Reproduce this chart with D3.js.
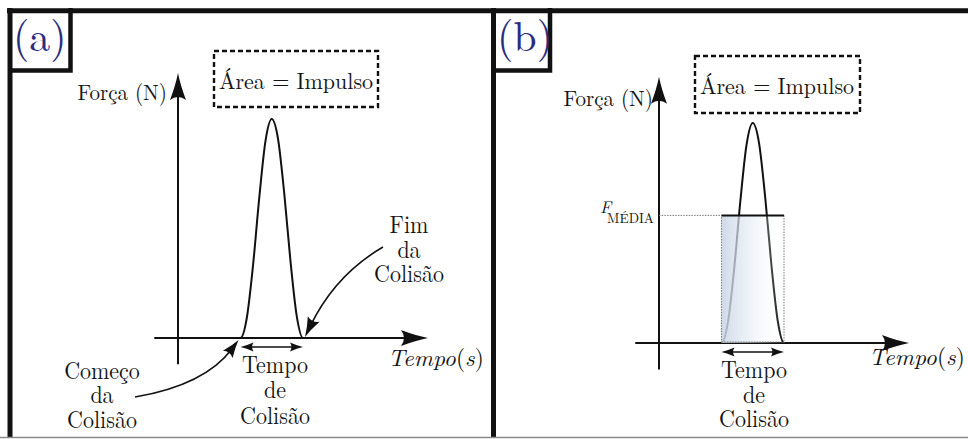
<!DOCTYPE html>
<html>
<head>
<meta charset="utf-8">
<script src="https://cdn.jsdelivr.net/npm/d3@7"></script>
<style>
  body { margin: 0; background: #fff; }
  svg { display: block; }
</style>
</head>
<body>
<svg id="fig" width="968" height="439"></svg>
<script>
// Force pulse during a collision (time in arbitrary units, force in arbitrary units)
const timeSamples  = [2.3, 2.5, 2.75, 3.0, 3.25, 3.5, 3.75, 4.0, 4.25, 4.5, 4.75, 5.0, 5.2];
const forceSamples = [0,   0,   0.9,  3.3, 6.4,  9.0, 10,   9.1, 6.6,  3.5, 1.0,  0,   0];
const collisionWindow = [2.5, 5.0];     // start / end of contact
const averageForce = [5.8];             // F_MÉDIA level in panel (b)
const timeExtent = [-0.95, 10];         // horizontal axis, from left stub to arrow tip
const forceExtent = [-1.2, 12.1];       // vertical axis, from bottom stub to arrow tip

// Texts
const panelLetters = ["(a)", "(b)"];
const impulseLabel = "Área = Impulso";
const forceTitle = "Força (N)";
const timeTitle = ["Tempo", "(", "s", ")"];
const durationLabel = ["Tempo", "de", "Colisão"];
const beginLabel = ["Começo", "da", "Colisão"];
const endLabel = ["Fim", "da", "Colisão"];
const avgLabel = ["F", "MÉDIA"];

const FONT = '"Latin Modern Roman", "Liberation Serif", serif';
const INK = "#141414";

const svg = d3.select("#fig");
const defs = svg.append("defs");
const grad = defs.append("linearGradient").attr("id", "avgFill")
  .attr("x1", "0").attr("x2", "1").attr("y1", "0").attr("y2", "0");
grad.append("stop").attr("offset", "0").attr("stop-color", "#c8d5e5").attr("stop-opacity", 0.88);
grad.append("stop").attr("offset", "0.5").attr("stop-color", "#e4ebf3").attr("stop-opacity", 0.55);
grad.append("stop").attr("offset", "1").attr("stop-color", "#ffffff").attr("stop-opacity", 0);

// text at (x,y); tall > 1 stretches the glyphs vertically about the baseline
function txt(g, x, y, size, s, tall = 1) {
  const t = g.append("text")
    .style("font-family", FONT).style("font-size", size + "px").attr("fill", INK);
  if (tall === 1) t.attr("x", x).attr("y", y);
  else t.attr("transform", `translate(${x},${y}) scale(1,${tall})`);
  if (s != null) t.text(s);
  return t;
}

// filled LaTeX-style arrow head, tip at (x,y), pointing along angle (deg)
function head(g, x, y, angle, len, hw) {
  g.append("path")
    .attr("d", `M0,0 Q${-len*0.45},${-hw*0.3} ${-len},${-hw} Q${-len*0.78},0 ${-len},${hw} Q${-len*0.45},${hw*0.3} 0,0Z`)
    .attr("transform", `translate(${x},${y}) rotate(${angle})`)
    .attr("fill", "#111");
}

// curved callout arrow: quadratic from p0 via c to tip p1
function callout(g, p0, c, p1, len, hw) {
  const dx = p1[0] - c[0], dy = p1[1] - c[1], d = Math.hypot(dx, dy);
  const e = [p1[0] - dx / d * len * 0.6, p1[1] - dy / d * len * 0.6];
  const p = d3.path();
  p.moveTo(p0[0], p0[1]);
  p.quadraticCurveTo(c[0], c[1], e[0], e[1]);
  g.append("path").attr("d", p.toString()).attr("fill", "none")
    .attr("stroke", "#111").attr("stroke-width", 1.6);
  head(g, p1[0], p1[1], Math.atan2(dy, dx) * 180 / Math.PI, len, hw);
}

function stackedText(g, lines, x, ys, size) {
  lines.forEach((s, i) => txt(g, x, ys[i], size, s, 1.13).attr("text-anchor", "middle"));
}

const panels = [
  { xr: [153, 428], y0: 338, y10: 119,
    box: [214, 51, 164, 56], boxText: [296, 89], force: [167, 100], time: [388, 366],
    duration: [275, [373, 398, 424]], durY: 9, avg: false },
  { xr: [634, 909], y0: 343, y10: 123,
    box: [695, 56, 165, 57], boxText: [777, 94], force: [653, 106], time: [869, 365],
    duration: [754, [378, 403, 427]], durY: 9, avg: true }
];

panels.forEach(P => {
  const g = svg.append("g");
  const x = d3.scaleLinear().domain([-1, 10]).range(P.xr);
  const y = d3.scaleLinear().domain([0, 10]).range([P.y0, P.y10]);

  // axes
  g.append("line").attr("x1", x(timeExtent[0])).attr("x2", x(timeExtent[1]) - 14)
    .attr("y1", y(0)).attr("y2", y(0)).attr("stroke", "#111").attr("stroke-width", 2);
  head(g, x(timeExtent[1]), y(0), 0, 27, 8);
  g.append("line").attr("x1", x(0)).attr("x2", x(0))
    .attr("y1", y(forceExtent[0])).attr("y2", y(forceExtent[1]) + 14)
    .attr("stroke", "#111").attr("stroke-width", 2);
  head(g, x(0), y(forceExtent[1]), -90, 27, 8);

  // force pulse
  const line = d3.line().x((d, i) => x(timeSamples[i])).y(d => y(d)).curve(d3.curveMonotoneX);
  g.append("path").attr("d", line(forceSamples)).attr("fill", "none")
    .attr("stroke", "#111").attr("stroke-width", 2);

  if (P.avg) {
    const xa = x(collisionWindow[0]), xb = x(collisionWindow[1]), ya = y(averageForce[0]);
    g.append("rect").attr("x", xa).attr("y", ya).attr("width", xb - xa).attr("height", y(0) - ya)
      .attr("fill", "url(#avgFill)");
    g.append("path").attr("d", `M${xa},${y(0)}V${ya}M${xb},${ya}V${y(0)}M${xa},${y(0) - 1}H${xb}`)
      .attr("fill", "none").attr("stroke", "#777").attr("stroke-width", 1).attr("stroke-dasharray", "1.5,1.2");
    g.append("line").attr("x1", x(0)).attr("x2", xa).attr("y1", ya).attr("y2", ya)
      .attr("stroke", "#777").attr("stroke-width", 1).attr("stroke-dasharray", "1.5,1.2");
    g.append("line").attr("x1", xa).attr("x2", xb).attr("y1", ya).attr("y2", ya)
      .attr("stroke", "#111").attr("stroke-width", 2);
    txt(g, x(0) - 59, ya - 2, 17, avgLabel[0]).style("font-style", "italic");
    txt(g, x(0) - 5, ya + 8, 13.5, avgLabel[1]).attr("text-anchor", "end");
  }

  // collision duration double arrow
  const xs = x(collisionWindow[0]), xe = x(collisionWindow[1]), yd = y(0) + P.durY;
  g.append("line").attr("x1", xs + 6).attr("x2", xe - 6).attr("y1", yd).attr("y2", yd)
    .attr("stroke", "#111").attr("stroke-width", 1.4);
  head(g, xs, yd, 180, 13, 4.5);
  head(g, xe, yd, 0, 13, 4.5);
  stackedText(g, durationLabel, P.duration[0], P.duration[1], 22);

  // dashed impulse box
  g.append("rect").attr("x", P.box[0]).attr("y", P.box[1]).attr("width", P.box[2]).attr("height", P.box[3])
    .attr("fill", "none").attr("stroke", "#111").attr("stroke-width", 2.4).attr("stroke-dasharray", "5,3");
  txt(g, P.boxText[0], P.boxText[1], 22, impulseLabel, 1.05).attr("text-anchor", "middle");

  // axis titles
  txt(g, P.force[0], P.force[1], 21, forceTitle, 1.06).attr("text-anchor", "end");
  const tt = txt(g, P.time[0], P.time[1], 23.5, null);
  tt.append("tspan").style("font-style", "italic").text(timeTitle[0]);
  tt.append("tspan").text(timeTitle[1]);
  tt.append("tspan").style("font-style", "italic").text(timeTitle[2]);
  tt.append("tspan").text(timeTitle[3]);

  if (!P.avg) {
    stackedText(g, beginLabel, 102, [379, 403, 428], 22);
    stackedText(g, endLabel, 409, [233, 258, 282], 22);
    callout(g, [135, 397], [205, 385], [x(collisionWindow[0]) - 2, y(0) + 2], 18, 6);
    callout(g, [383, 247], [335, 275], [x(collisionWindow[1]) + 2, y(0) - 1], 20, 6.5);
  }
});

// frame: top rule, panel borders, letter boxes, bottom rule
const frame = svg.append("g").attr("fill", "none").attr("stroke", "#111");
frame.append("path").attr("d", "M7,10.8H968M10,8V437M493.5,8V437").attr("stroke-width", 5);
frame.append("path").attr("d", "M70.5,8V70.5H8M550,8V70.5H493").attr("stroke-width", 4.5);
svg.append("line").attr("x1", 0).attr("x2", 968).attr("y1", 437.5).attr("y2", 437.5)
  .attr("stroke", "#8a8a8a").attr("stroke-width", 1.5);

const letters = [[13, 51], [497, 51]];
panelLetters.forEach((s, i) => txt(svg, letters[i][0], letters[i][1], 42, s).attr("fill", "#2c2c7e"));
</script>
</body>
</html>
